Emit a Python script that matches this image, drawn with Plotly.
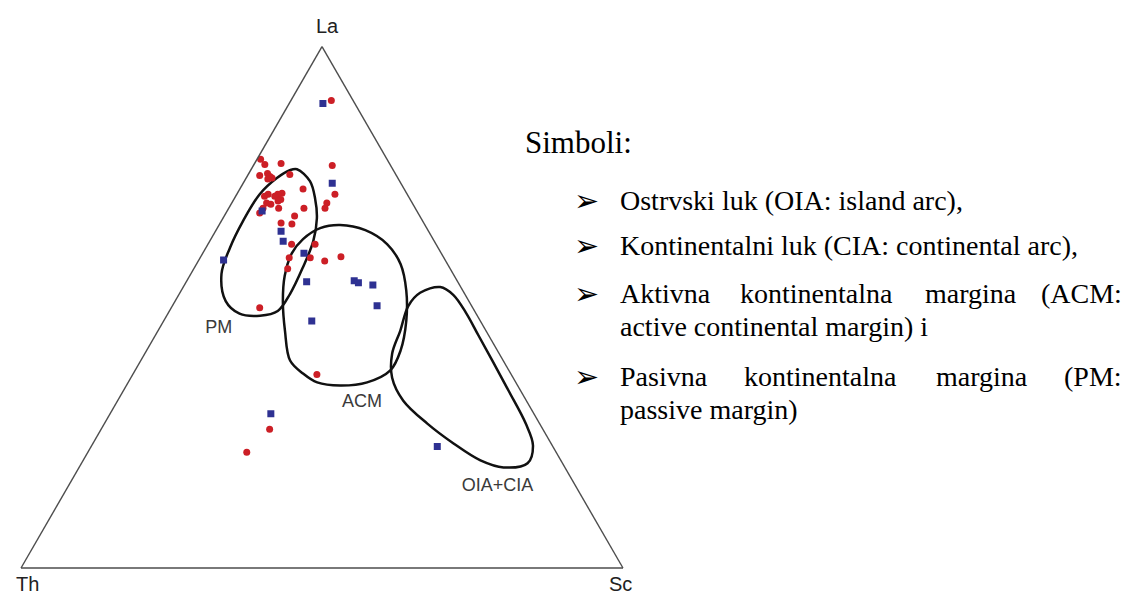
import plotly.graph_objects as go

W, H = 1129, 598
OX, OY = 8, 8  # page body margin of the html page

# ---- data (ternary %, La / Th / Sc) ----
red_La = [89.7, 78.4, 77.4, 77.6, 77.2, 75.3, 75.7, 75.1, 74.8, 74.6, 75.5, 71.9, 71.7, 71.3,
          71.7, 71.3, 70.7, 70.4, 69.8, 70.0, 69.0, 72.7, 69.0, 71.7, 70.0, 69.0, 67.5, 66.0,
          66.2, 68.1, 62.1, 62.1, 59.5, 59.5, 58.9, 59.7, 57.4, 49.9, 37.1, 26.6, 22.2, 69.0]
red_Th = [3.6, 21.0, 20.8, 18.0, 9.7, 22.7, 21.2, 21.1, 20.9, 21.7, 17.6, 20.7, 21.5, 22.2,
          23.1, 23.9, 21.5, 22.1, 23.6, 24.2, 22.7, 16.8, 18.5, 12.0, 14.2, 15.0, 20.8, 22.0,
          23.7, 26.3, 24.0, 20.1, 22.2, 25.7, 20.1, 17.0, 27.0, 35.4, 32.3, 45.4, 51.4, 25.3]
red_Sc = [6.7, 0.6, 1.8, 4.4, 13.1, 2.0, 3.1, 3.8, 4.3, 3.7, 6.9, 7.4, 6.8, 6.5,
          5.2, 4.8, 7.8, 7.5, 6.6, 5.8, 8.3, 10.5, 12.5, 16.3, 15.8, 16.0, 11.7, 12.0,
          10.1, 5.6, 13.9, 17.8, 18.3, 14.8, 21.0, 23.3, 15.6, 14.7, 30.6, 28.0, 26.4, 5.7]

blue_La = [89.1, 73.8, 68.5, 64.6, 62.7, 60.4, 59.1, 54.9, 55.1, 54.7, 54.3, 50.3, 47.4, 29.6, 23.3]
blue_Th = [5.3, 11.4, 25.7, 24.5, 25.1, 22.8, 36.8, 25.1, 17.1, 16.6, 14.4, 15.7, 28.0, 43.7, 19.2]
blue_Sc = [5.6, 14.8, 5.8, 10.9, 12.2, 16.8, 4.1, 20.0, 27.8, 28.7, 31.3, 34.0, 24.6, 26.7, 57.5]

# field outlines
pm_La = [76.5, 74.2, 70.9, 67.1, 62.7, 57.6, 52.6, 49.3, 48.4, 48.8, 51.2, 56.4, 61.4, 66.5, 71.7, 74.8, 76.3, 76.5]
pm_Th = [15.9, 14.9, 15.7, 17.3, 20.1, 24.4, 29.0, 32.7, 36.1, 39.3, 40.4, 38.5, 34.6, 29.9, 24.5, 20.1, 17.2, 15.9]
pm_Sc = [7.6, 10.9, 13.4, 15.6, 17.2, 18.0, 18.4, 18.0, 15.5, 11.9, 8.4, 5.1, 4.0, 3.6, 3.8, 5.1, 6.5, 7.6]

acm_La = [65.8, 64.8, 62.1, 58.3, 53.2, 47.4, 41.7, 37.9, 35.6, 35.0, 35.6, 37.3, 39.8, 45.5, 51.2, 56.0, 60.4, 63.1, 65.2, 65.8]
acm_Th = [14.1, 10.4, 8.1, 7.8, 9.4, 12.3, 16.1, 19.7, 24.7, 29.5, 33.0, 34.5, 35.4, 33.4, 30.9, 28.2, 24.8, 21.6, 17.7, 14.1]
acm_Sc = [20.1, 24.8, 29.8, 33.9, 37.4, 40.3, 42.2, 42.4, 39.7, 35.5, 31.4, 28.2, 24.8, 21.1, 17.9, 15.8, 14.8, 15.3, 17.1, 20.1]

oia_La = [53.9, 52.4, 48.9, 44.6, 39.8, 34.0, 27.7, 23.5, 20.1, 19.3, 20.65, 23.9, 27.7, 32.1, 36.5, 41.1, 45.5, 50.3, 52.8, 53.9]
oia_Th = [3.4, 2.0, 1.6, 1.7, 1.8, 2.0, 2.3, 3.2, 5.8, 10.2, 13.35, 16.2, 18.65, 20.45, 20.1, 17.8, 14.25, 10.5, 7.3, 3.4]
oia_Sc = [42.7, 45.6, 49.5, 53.7, 58.4, 64.0, 70.0, 73.3, 74.1, 70.5, 66.0, 59.9, 53.65, 47.45, 43.4, 41.1, 40.25, 39.2, 39.9, 42.7]

field_names = ["PM", "ACM", "OIA+CIA"]
label_La = [45.9, 31.7, 15.7]
label_Th = [44.2, 27.5, 13.0]
label_Sc = [9.9, 40.8, 71.3]

axis_titles = ["La", "Th", "Sc"]

heading = "Simboli:"
bullet_lines = ["Ostrvski luk (OIA: island arc),",
                "Kontinentalni luk (CIA: continental arc),"]
justified_words_1 = ["Aktivna", "kontinentalna", "margina", "(ACM:"]
cont_1 = "active continental margin) i"
justified_words_2 = ["Pasivna", "kontinentalna", "margina", "(PM:"]
cont_2 = "passive margin)"

# ---- figure ----
RED = "#cc1f26"
BLUE = "#2e3192"
SANS = "Liberation Sans, Arial, sans-serif"
SERIF = "Liberation Serif, Times New Roman, serif"
LABEL_FONT = dict(family=SANS, size=18, color="#3a3a3a")


def px(x):
    return (x - OX) / W


def py(y):
    return 1 - (y - OY) / H


fig = go.Figure()

for La, Th, Sc in [(pm_La, pm_Th, pm_Sc), (acm_La, acm_Th, acm_Sc), (oia_La, oia_Th, oia_Sc)]:
    fig.add_trace(go.Scatterternary(a=La, b=Th, c=Sc, mode="lines",
                                    line=dict(color="#111111", width=2.5, shape="spline", smoothing=1.0),
                                    hoverinfo="skip", showlegend=False))

fig.add_trace(go.Scatterternary(a=red_La, b=red_Th, c=red_Sc, mode="markers",
                                marker=dict(symbol="circle", size=7, color=RED, line=dict(width=0)),
                                showlegend=False))
fig.add_trace(go.Scatterternary(a=blue_La, b=blue_Th, c=blue_Sc, mode="markers",
                                marker=dict(symbol="square", size=7, color=BLUE, line=dict(width=0)),
                                showlegend=False))
fig.add_trace(go.Scatterternary(a=label_La, b=label_Th, c=label_Sc, mode="text",
                                text=field_names, textfont=LABEL_FONT, textposition="middle center",
                                hoverinfo="skip", showlegend=False))

axis_common = dict(showticklabels=False, ticks="", showgrid=False, linecolor="#4d4d4d",
                   linewidth=1.4, min=0, title=dict(text=""))

fig.update_layout(
    width=W, height=H,
    margin=dict(l=0, r=0, t=0, b=0),
    paper_bgcolor="white",
    ternary=dict(
        sum=100,
        bgcolor="white",
        domain=dict(x=[px(21), px(623)], y=[py(568), py(568) + 521.3 / H]),
        aaxis=axis_common,
        baxis=axis_common,
        caxis=axis_common,
    ),
)

ann = []
# vertex labels
VERT_FONT = dict(family=SANS, size=20, color="#222222")
for t, (x, y) in zip(axis_titles, [(327, 26), (27, 584), (620, 584)]):
    ann.append(dict(text=t, x=px(x), y=py(y), xanchor="center", yanchor="middle", font=VERT_FONT))

TEXT_SIZE = 28
TEXT_FONT = dict(family=SERIF, size=TEXT_SIZE, color="black")
ann.append(dict(text=heading, x=px(523), y=py(143), xanchor="left", yanchor="middle",
                font=dict(family=SERIF, size=31, color="black")))

item_centers = [200, 246, 293, 376]
cont_step = 33
bullet_x = 572
text_x = 618
for i, line in enumerate(bullet_lines):
    ann.append(dict(text=line, x=px(text_x), y=py(item_centers[i]), xanchor="left", yanchor="middle",
                    font=TEXT_FONT))

word_x1 = [618, 738, 923, 1124]
word_x2 = [618, 742, 934, 1124]
for words, xs, yc in [(justified_words_1, word_x1, item_centers[2]), (justified_words_2, word_x2, item_centers[3])]:
    for j, (w, x) in enumerate(zip(words, xs)):
        ann.append(dict(text=w, x=px(x), y=py(yc), xanchor="right" if j == len(words) - 1 else "left",
                        yanchor="middle", font=TEXT_FONT))

ann.append(dict(text=cont_1, x=px(text_x), y=py(item_centers[2] + cont_step), xanchor="left",
                yanchor="middle", font=TEXT_FONT))
ann.append(dict(text=cont_2, x=px(text_x), y=py(item_centers[3] + cont_step), xanchor="left",
                yanchor="middle", font=TEXT_FONT))

for yc in item_centers:
    ann.append(dict(text="\u27a2", x=px(bullet_x), y=py(yc), xanchor="left", yanchor="middle",
                    font=dict(family="DejaVu Sans", size=30, color="black")))

for a in ann:
    a.update(xref="paper", yref="paper", showarrow=False)
fig.update_layout(annotations=ann)

fig.write_html("out.html")
